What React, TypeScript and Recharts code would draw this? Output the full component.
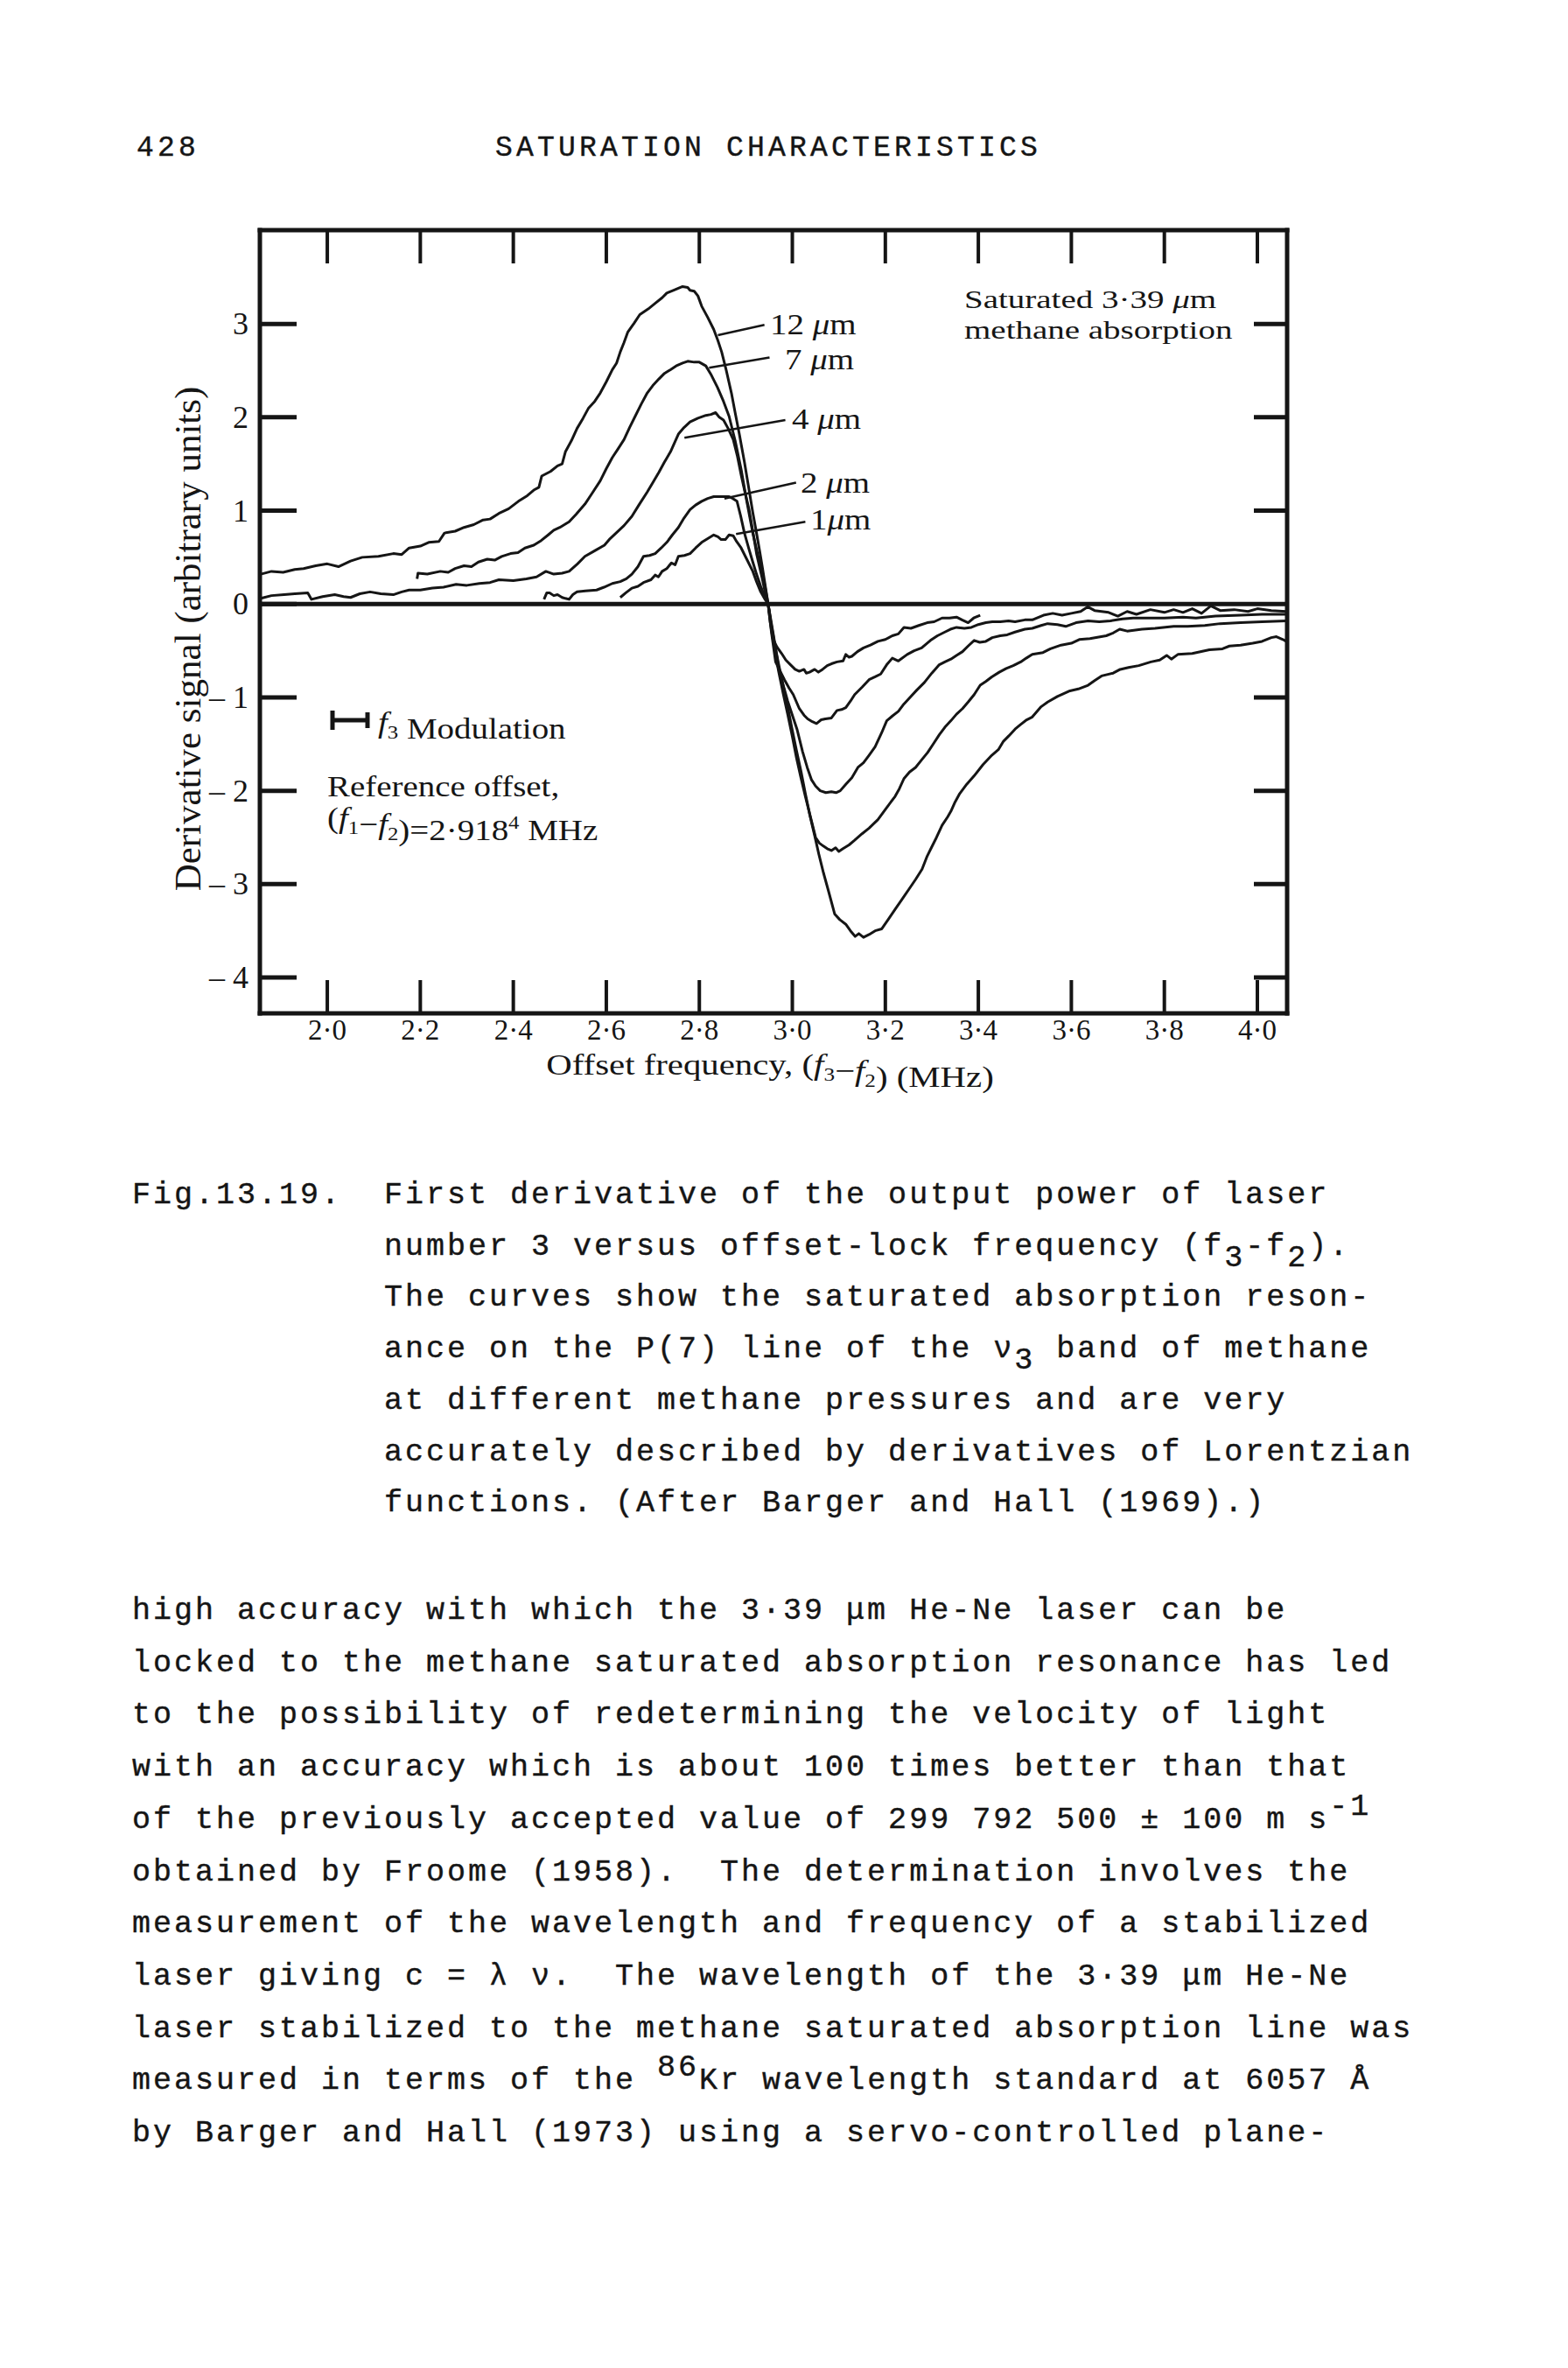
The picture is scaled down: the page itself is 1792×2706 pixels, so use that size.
import React from 'react';
import { LineChart, Line, XAxis, YAxis, ReferenceLine } from 'recharts';

// [offset frequency (MHz), derivative signal]
const curve12um: [number, number][] = [
  [1.857, 0.32], [1.88, 0.35], [1.905, 0.34], [1.93, 0.37], [1.949, 0.38], [1.975, 0.41], [2.0, 0.43], [2.024, 0.4],
  [2.05, 0.46], [2.075, 0.5], [2.11, 0.51], [2.142, 0.54], [2.16, 0.53], [2.176, 0.6], [2.2, 0.62], [2.218, 0.66],
  [2.24, 0.67], [2.252, 0.76], [2.275, 0.78], [2.294, 0.82], [2.315, 0.85], [2.335, 0.9], [2.35, 0.91], [2.369, 0.97],
  [2.39, 1.02], [2.411, 1.1], [2.43, 1.16], [2.444, 1.22], [2.455, 1.25], [2.461, 1.37], [2.48, 1.42], [2.495, 1.48],
  [2.505, 1.5], [2.512, 1.63], [2.525, 1.75], [2.537, 1.88], [2.55, 1.99], [2.562, 2.1], [2.575, 2.17], [2.587, 2.26],
  [2.6, 2.38], [2.613, 2.51], [2.622, 2.58], [2.63, 2.7], [2.638, 2.8], [2.646, 2.91], [2.66, 3.01], [2.672, 3.1],
  [2.69, 3.16], [2.705, 3.22], [2.72, 3.28], [2.73, 3.33], [2.745, 3.36], [2.764, 3.4], [2.775, 3.39], [2.78, 3.36],
  [2.789, 3.35], [2.797, 3.3], [2.805, 3.19], [2.818, 3.07], [2.831, 2.94], [2.84, 2.82], [2.848, 2.7], [2.858, 2.5],
  [2.869, 2.26], [2.877, 2.05], [2.886, 1.82], [2.897, 1.52], [2.907, 1.22], [2.915, 0.98], [2.923, 0.76], [2.93, 0.56],
  [2.936, 0.38], [2.942, 0.19], [2.948, 0.0], [2.954, -0.2], [2.961, -0.4], [2.97, -0.63], [2.98, -0.87], [2.99, -1.1],
  [2.999, -1.33], [3.009, -1.57], [3.019, -1.8], [3.028, -2.03], [3.038, -2.27], [3.048, -2.48], [3.057, -2.68],
  [3.067, -2.88], [3.077, -3.06], [3.091, -3.32], [3.102, -3.38], [3.115, -3.43], [3.125, -3.5], [3.135, -3.56],
  [3.143, -3.53], [3.153, -3.57], [3.165, -3.54], [3.178, -3.5], [3.192, -3.48], [3.206, -3.38], [3.221, -3.27],
  [3.235, -3.17], [3.25, -3.06], [3.265, -2.95], [3.279, -2.84], [3.29, -2.7], [3.298, -2.62], [3.31, -2.5],
  [3.322, -2.37], [3.334, -2.28], [3.341, -2.22], [3.35, -2.12], [3.36, -2.03], [3.375, -1.93], [3.391, -1.84],
  [3.41, -1.72], [3.429, -1.62], [3.443, -1.56], [3.454, -1.47], [3.466, -1.41], [3.479, -1.34], [3.491, -1.29],
  [3.504, -1.24], [3.516, -1.21], [3.535, -1.1], [3.549, -1.05], [3.57, -0.99], [3.597, -0.93], [3.615, -0.91],
  [3.636, -0.87], [3.65, -0.82], [3.665, -0.77], [3.69, -0.74], [3.705, -0.7], [3.723, -0.68], [3.745, -0.66],
  [3.771, -0.62], [3.79, -0.6], [3.805, -0.55], [3.815, -0.59], [3.829, -0.54], [3.86, -0.53], [3.897, -0.49],
  [3.925, -0.48], [3.94, -0.45], [3.964, -0.44], [3.99, -0.42], [4.01, -0.4], [4.03, -0.36], [4.041, -0.35],
  [4.055, -0.38], [4.062, -0.4],
];

const curve7um: [number, number][] = [
  [2.193, 0.27], [2.195, 0.33], [2.215, 0.32], [2.243, 0.35], [2.26, 0.34], [2.275, 0.38], [2.294, 0.41], [2.31, 0.4],
  [2.325, 0.45], [2.344, 0.48], [2.36, 0.47], [2.375, 0.51], [2.394, 0.54], [2.41, 0.55], [2.425, 0.6], [2.444, 0.63],
  [2.46, 0.68], [2.475, 0.74], [2.487, 0.79], [2.5, 0.82], [2.52, 0.88], [2.535, 0.96], [2.554, 1.07], [2.57, 1.19],
  [2.587, 1.32], [2.6, 1.45], [2.613, 1.57], [2.625, 1.66], [2.638, 1.76], [2.65, 1.89], [2.662, 2.01], [2.675, 2.14],
  [2.688, 2.26], [2.7, 2.34], [2.713, 2.41], [2.725, 2.47], [2.738, 2.51], [2.75, 2.55], [2.764, 2.58], [2.775, 2.6],
  [2.789, 2.59], [2.8, 2.59], [2.814, 2.55], [2.826, 2.45], [2.839, 2.32], [2.852, 2.17], [2.864, 2.01], [2.877, 1.75],
  [2.89, 1.44], [2.902, 1.1], [2.915, 0.76], [2.928, 0.48], [2.94, 0.22], [2.948, 0.0], [2.955, -0.25], [2.962, -0.48],
  [2.97, -0.71], [2.98, -0.95], [2.99, -1.18], [3.0, -1.42], [3.009, -1.65], [3.018, -1.85], [3.028, -2.06],
  [3.04, -2.3], [3.05, -2.5], [3.058, -2.56], [3.066, -2.59], [3.075, -2.62], [3.084, -2.64], [3.093, -2.61],
  [3.1, -2.65], [3.109, -2.62], [3.122, -2.58], [3.134, -2.53], [3.15, -2.46], [3.165, -2.4], [3.184, -2.31],
  [3.203, -2.18], [3.221, -2.06], [3.23, -1.98], [3.24, -1.87], [3.252, -1.8], [3.265, -1.75], [3.278, -1.67],
  [3.291, -1.59], [3.303, -1.5], [3.316, -1.4], [3.328, -1.32], [3.341, -1.25], [3.353, -1.18], [3.366, -1.12],
  [3.378, -1.05], [3.391, -0.97], [3.404, -0.87], [3.416, -0.83], [3.429, -0.78], [3.445, -0.73], [3.46, -0.69],
  [3.475, -0.66], [3.491, -0.62], [3.503, -0.58], [3.516, -0.54], [3.539, -0.52], [3.555, -0.48], [3.578, -0.44],
  [3.6, -0.42], [3.617, -0.38], [3.64, -0.37], [3.675, -0.34], [3.69, -0.31], [3.704, -0.27], [3.72, -0.29],
  [3.752, -0.27], [3.78, -0.26], [3.82, -0.24], [3.85, -0.24], [3.887, -0.23], [3.92, -0.21], [3.964, -0.2],
  [4.01, -0.19], [4.062, -0.18],
];

const curve4um: [number, number][] = [
  [1.857, 0.06], [1.88, 0.09], [1.907, 0.1], [1.93, 0.11], [1.958, 0.12], [1.966, 0.05], [1.99, 0.08], [2.016, 0.1],
  [2.035, 0.08], [2.05, 0.07], [2.07, 0.11], [2.092, 0.13], [2.115, 0.11], [2.142, 0.1], [2.16, 0.13], [2.176, 0.15],
  [2.2, 0.15], [2.226, 0.17], [2.25, 0.18], [2.277, 0.21], [2.3, 0.2], [2.327, 0.22], [2.35, 0.23], [2.369, 0.26],
  [2.4, 0.25], [2.428, 0.27], [2.45, 0.29], [2.47, 0.35], [2.487, 0.32], [2.505, 0.33], [2.52, 0.35], [2.538, 0.43],
  [2.554, 0.51], [2.575, 0.57], [2.596, 0.63], [2.608, 0.7], [2.621, 0.76], [2.638, 0.84], [2.655, 0.94], [2.67, 1.06],
  [2.688, 1.2], [2.7, 1.3], [2.713, 1.41], [2.725, 1.52], [2.738, 1.63], [2.747, 1.73], [2.755, 1.82], [2.767, 1.89],
  [2.78, 1.95], [2.797, 1.99], [2.814, 2.02], [2.825, 2.03], [2.835, 2.05], [2.843, 2.0], [2.852, 1.97], [2.862, 1.88],
  [2.873, 1.76], [2.882, 1.58], [2.89, 1.38], [2.898, 1.2], [2.907, 1.01], [2.915, 0.78], [2.923, 0.54], [2.934, 0.3],
  [2.944, 0.07], [2.948, 0.0], [2.96, -0.35], [2.971, -0.7], [2.99, -1.04], [3.01, -1.34], [3.022, -1.58],
  [3.032, -1.75], [3.041, -1.88], [3.05, -1.95], [3.06, -2.0], [3.072, -2.02], [3.084, -2.01], [3.094, -2.02],
  [3.103, -2.0], [3.115, -1.93], [3.128, -1.86], [3.141, -1.75], [3.153, -1.7], [3.165, -1.62], [3.178, -1.53],
  [3.192, -1.38], [3.203, -1.25], [3.215, -1.2], [3.228, -1.15], [3.24, -1.07], [3.253, -1.0], [3.268, -0.92],
  [3.284, -0.84], [3.3, -0.74], [3.316, -0.65], [3.328, -0.62], [3.341, -0.59], [3.353, -0.55], [3.366, -0.51],
  [3.378, -0.45], [3.391, -0.39], [3.403, -0.41], [3.416, -0.4], [3.43, -0.36], [3.447, -0.34], [3.462, -0.33],
  [3.479, -0.3], [3.5, -0.27], [3.516, -0.26], [3.535, -0.23], [3.549, -0.21], [3.57, -0.22], [3.588, -0.24],
  [3.61, -0.2], [3.636, -0.18], [3.66, -0.19], [3.684, -0.18], [3.71, -0.16], [3.733, -0.15], [3.77, -0.15],
  [3.8, -0.15], [3.84, -0.14], [3.868, -0.15], [3.91, -0.13], [3.964, -0.12], [4.01, -0.11], [4.062, -0.11],
];

const curve2um: [number, number][] = [
  [2.466, 0.05], [2.472, 0.12], [2.478, 0.12], [2.487, 0.09], [2.495, 0.1], [2.505, 0.07], [2.512, 0.06], [2.52, 0.05],
  [2.528, 0.1], [2.537, 0.13], [2.555, 0.14], [2.579, 0.15], [2.595, 0.18], [2.613, 0.22], [2.63, 0.24], [2.643, 0.27],
  [2.655, 0.32], [2.668, 0.4], [2.68, 0.51], [2.693, 0.52], [2.705, 0.54], [2.718, 0.6], [2.73, 0.66], [2.742, 0.74],
  [2.755, 0.82], [2.767, 0.92], [2.78, 1.01], [2.792, 1.06], [2.805, 1.1], [2.818, 1.13], [2.831, 1.15], [2.848, 1.15],
  [2.864, 1.15], [2.872, 1.13], [2.881, 1.1], [2.889, 0.94], [2.897, 0.76], [2.906, 0.6], [2.915, 0.45], [2.923, 0.32],
  [2.932, 0.19], [2.94, 0.09], [2.948, 0.0], [2.955, -0.3], [2.964, -0.62], [2.974, -0.72], [2.983, -0.81],
  [2.993, -0.9], [3.002, -0.97], [3.015, -1.12], [3.025, -1.19], [3.033, -1.23], [3.043, -1.26], [3.052, -1.28],
  [3.062, -1.24], [3.071, -1.23], [3.084, -1.22], [3.096, -1.14], [3.106, -1.13], [3.115, -1.11], [3.125, -1.04],
  [3.134, -0.97], [3.15, -0.89], [3.165, -0.81], [3.178, -0.78], [3.19, -0.75], [3.203, -0.65], [3.215, -0.58],
  [3.228, -0.61], [3.247, -0.54], [3.262, -0.5], [3.278, -0.47], [3.297, -0.39], [3.312, -0.34], [3.328, -0.3],
  [3.34, -0.27], [3.353, -0.25], [3.37, -0.26], [3.385, -0.25], [3.4, -0.22], [3.416, -0.2], [3.43, -0.19],
  [3.447, -0.19], [3.465, -0.18], [3.479, -0.19], [3.5, -0.17], [3.516, -0.17], [3.54, -0.12], [3.56, -0.1],
  [3.58, -0.12], [3.6, -0.1], [3.62, -0.08], [3.635, -0.03], [3.65, -0.07], [3.68, -0.09], [3.7, -0.13], [3.72, -0.08],
  [3.74, -0.11], [3.77, -0.06], [3.8, -0.09], [3.82, -0.06], [3.84, -0.09], [3.86, -0.05], [3.88, -0.1], [3.9, -0.02],
  [3.92, -0.07], [3.95, -0.06], [3.98, -0.08], [4.0, -0.05], [4.03, -0.07], [4.062, -0.08],
];

const curve1um: [number, number][] = [
  [2.63, 0.07], [2.642, 0.12], [2.655, 0.17], [2.668, 0.19], [2.68, 0.23], [2.696, 0.26], [2.705, 0.31], [2.712, 0.29],
  [2.72, 0.35], [2.73, 0.38], [2.74, 0.44], [2.748, 0.42], [2.755, 0.51], [2.768, 0.52], [2.78, 0.54], [2.792, 0.6],
  [2.805, 0.66], [2.818, 0.7], [2.831, 0.74], [2.84, 0.72], [2.847, 0.69], [2.856, 0.69], [2.864, 0.74], [2.873, 0.73],
  [2.88, 0.67], [2.89, 0.6], [2.902, 0.48], [2.915, 0.35], [2.923, 0.24], [2.932, 0.13], [2.94, 0.06], [2.948, 0.0],
  [2.952, -0.18], [2.958, -0.37], [2.967, -0.46], [2.977, -0.53], [2.986, -0.6], [2.996, -0.65], [3.006, -0.7],
  [3.015, -0.72], [3.025, -0.7], [3.03, -0.74], [3.037, -0.73], [3.048, -0.7], [3.056, -0.73], [3.065, -0.7],
  [3.075, -0.66], [3.084, -0.64], [3.096, -0.62], [3.109, -0.61], [3.115, -0.54], [3.122, -0.57], [3.128, -0.56],
  [3.14, -0.51], [3.153, -0.47], [3.168, -0.44], [3.184, -0.4], [3.2, -0.38], [3.215, -0.34], [3.228, -0.32],
  [3.24, -0.25], [3.255, -0.26], [3.272, -0.23], [3.29, -0.2], [3.305, -0.19], [3.322, -0.15], [3.338, -0.15],
  [3.353, -0.14], [3.365, -0.17], [3.378, -0.2], [3.39, -0.15], [3.404, -0.12],
];

const xTicks = [2.0, 2.2, 2.4, 2.6, 2.8, 3.0, 3.2, 3.4, 3.6, 3.8, 4.0];
const yTicks = [-4, -3, -2, -1, 0, 1, 2, 3];
const yTicksRight = [-4, -3, -2, -1, 1, 2, 3];

// leader lines from each curve to its pressure label
const leaders = [
  { id: '12', from: [2.84, 2.88], to: [2.94, 2.99] },
  { id: '7', from: [2.821, 2.53], to: [2.951, 2.64] },
  { id: '4', from: [2.768, 1.78], to: [2.985, 1.97] },
  { id: '2', from: [2.854, 1.13], to: [3.008, 1.3] },
  { id: '1', from: [2.879, 0.75], to: [3.028, 0.88] },
];

const captionLines = [
  'Fig.13.19.  First derivative of the output power of laser',
  '            number 3 versus offset-lock frequency (f~3~-f~2~).',
  '            The curves show the saturated absorption reson-',
  '            ance on the P(7) line of the \u03bd~3~ band of methane',
  '            at different methane pressures and are very',
  '            accurately described by derivatives of Lorentzian',
  '            functions. (After Barger and Hall (1969).)',
];

const bodyLines = [
  'high accuracy with which the 3\u00b739 \u03bcm He-Ne laser can be',
  'locked to the methane saturated absorption resonance has led',
  'to the possibility of redetermining the velocity of light',
  'with an accuracy which is about 100 times better than that',
  'of the previously accepted value of 299 792 500 \u00b1 100 m s^-1^',
  'obtained by Froome (1958).  The determination involves the',
  'measurement of the wavelength and frequency of a stabilized',
  'laser giving c = \u03bb \u03bd.  The wavelength of the 3\u00b739 \u03bcm He-Ne',
  'laser stabilized to the methane saturated absorption line was',
  'measured in terms of the ^86^Kr wavelength standard at 6057 \u00c5',
  'by Barger and Hall (1973) using a servo-controlled plane-',
];

const SERIF = '"Liberation Serif", "Times New Roman", serif';
const MONO = '"Liberation Mono", "Courier New", monospace';
const INK = '#151515';

const CHART_W = 1792;
const CHART_H = 1300;
const PLOT = { left: 297, right: 1471, top: 263, bottom: 1158 };
const TICK_LEN = 38;

const toPoints = (c: [number, number][]) => c.map(([x, y]) => ({ x, y }));

const series = [
  { key: '12um', data: toPoints(curve12um) },
  { key: '7um', data: toPoints(curve7um) },
  { key: '4um', data: toPoints(curve4um) },
  { key: '2um', data: toPoints(curve2um) },
  { key: '1um', data: toPoints(curve1um) },
];

const fmtX = (v: number) => v.toFixed(1).replace('.', '\u00b7');
const fmtY = (v: number) => (v < 0 ? `\u2013 ${-v}` : `${v}`);

const BottomTick = (p: any) => (
  <g>
    <line x1={p.x} x2={p.x} y1={PLOT.bottom} y2={PLOT.bottom - TICK_LEN} stroke={INK} strokeWidth={4} />
    <text x={p.x} y={PLOT.bottom + 30} textAnchor="middle" fontFamily={SERIF} fontSize={33} fill={INK}>
      {fmtX(p.payload.value)}
    </text>
  </g>
);

const TopTick = (p: any) => (
  <line x1={p.x} x2={p.x} y1={PLOT.top} y2={PLOT.top + TICK_LEN} stroke={INK} strokeWidth={4} />
);

const LeftTick = (p: any) => (
  <g>
    <line x1={PLOT.left} x2={PLOT.left + TICK_LEN + 4} y1={p.y} y2={p.y} stroke={INK} strokeWidth={5} />
    <text x={PLOT.left - 13} y={p.y + 12} textAnchor="end" fontFamily={SERIF} fontSize={36} fill={INK}>
      {fmtY(p.payload.value)}
    </text>
  </g>
);

const RightTick = (p: any) => (
  <line x1={PLOT.right} x2={PLOT.right - TICK_LEN} y1={p.y} y2={p.y} stroke={INK} strokeWidth={5} />
);

// ~x~ subscript, ^x^ superscript
const marked = (s: string, subDy: number, supDy: number) => {
  const parts = s.split(/(~[^~]*~|\^[^^]*\^)/).filter((t) => t !== '');
  let cur = 0;
  return parts.map((t, i) => {
    let target = 0;
    let txt = t;
    if (t.startsWith('~')) {
      target = subDy;
      txt = t.slice(1, -1);
    } else if (t.startsWith('^')) {
      target = supDy;
      txt = t.slice(1, -1);
    }
    const dy = target - cur;
    cur = target;
    return (
      <tspan key={i} dy={dy !== 0 ? dy : undefined}>
        {txt}
      </tspan>
    );
  });
};

const Label = ({ x, y, children, size = 33, sx = 1.18, anchor = 'start' }: any) => (
  <text
    transform={`translate(${x},${y}) scale(${sx},1)`}
    fontFamily={SERIF}
    fontSize={size}
    textAnchor={anchor}
    fill={INK}
  >
    {children}
  </text>
);

const Mu = () => <tspan fontStyle="italic">{'\u03bc'}</tspan>;
const F = ({ sub }: { sub: string }) => (
  <>
    <tspan fontStyle="italic">f</tspan>
    <tspan fontSize={21} dy={7}>
      {sub}
    </tspan>
    <tspan dy={-7}>{''}</tspan>
  </>
);

const axisLine = { stroke: INK, strokeWidth: 5, strokeLinecap: 'square' as const };

export default function App() {
  return (
    <div style={{ position: 'relative', width: 1792, height: 2706, margin: -8, background: '#fff', overflow: 'hidden' }}>
      <div style={{ position: 'absolute', left: 0, top: 0 }}>
        <LineChart
          width={CHART_W}
          height={CHART_H}
          margin={{
            top: PLOT.top - 2,
            right: CHART_W - PLOT.right - 2,
            bottom: CHART_H - PLOT.bottom - 80,
            left: PLOT.left - 100,
          }}
        >
          <XAxis
            xAxisId="b"
            type="number"
            dataKey="x"
            domain={[1.855, 4.064]}
            allowDataOverflow
            ticks={xTicks}
            interval={0}
            height={80}
            tickSize={0}
            tickMargin={0}
            tickLine={false}
            axisLine={axisLine}
            tick={(p: any) => <BottomTick {...p} />}
          />
          <XAxis
            xAxisId="t"
            orientation="top"
            type="number"
            dataKey="x"
            domain={[1.855, 4.064]}
            allowDataOverflow
            ticks={xTicks}
            interval={0}
            height={2}
            tickSize={0}
            tickMargin={0}
            tickLine={false}
            axisLine={axisLine}
            tick={(p: any) => <TopTick {...p} />}
          />
          <YAxis
            yAxisId="l"
            type="number"
            domain={[-4.384, 4.004]}
            allowDataOverflow
            ticks={yTicks}
            interval={0}
            width={100}
            tickSize={0}
            tickMargin={0}
            tickLine={false}
            axisLine={axisLine}
            tick={(p: any) => <LeftTick {...p} />}
          />
          <YAxis
            yAxisId="r"
            orientation="right"
            type="number"
            domain={[-4.384, 4.004]}
            allowDataOverflow
            ticks={yTicksRight}
            interval={0}
            width={2}
            tickSize={0}
            tickMargin={0}
            tickLine={false}
            axisLine={axisLine}
            tick={(p: any) => <RightTick {...p} />}
          />
          <ReferenceLine xAxisId="b" yAxisId="l" y={0} stroke={INK} strokeWidth={5} />
          {series.map((s) => (
            <Line
              key={s.key}
              xAxisId="b"
              yAxisId="l"
              data={s.data}
              dataKey="y"
              type="linear"
              stroke={INK}
              strokeWidth={3}
              strokeLinejoin="round"
              dot={false}
              activeDot={false}
              isAnimationActive={false}
            />
          ))}
          {leaders.map((l) => (
            <ReferenceLine
              key={l.id}
              xAxisId="b"
              yAxisId="l"
              segment={[
                { x: l.from[0], y: l.from[1] },
                { x: l.to[0], y: l.to[1] },
              ]}
              stroke={INK}
              strokeWidth={2.5}
              ifOverflow="visible"
            />
          ))}
        </LineChart>
      </div>

      <svg
        width={1792}
        height={2706}
        style={{ position: 'absolute', left: 0, top: 0, pointerEvents: 'none' }}
      >
        {/* running head */}
        <g fontFamily={MONO} fontSize={33} fill={INK} stroke={INK} strokeWidth={0.4} letterSpacing={4.2}>
          <text x={156} y={178}>428</text>
          <text x={566} y={178}>SATURATION CHARACTERISTICS</text>
        </g>

        {/* chart annotations */}
        <Label x={1102} y={352} size={30} sx={1.3}>
          Saturated 3{'\u00b7'}39 <Mu />m
        </Label>
        <Label x={1102} y={387} size={30} sx={1.3}>
          methane absorption
        </Label>
        <Label x={880} y={382}>
          12 <Mu />m
        </Label>
        <Label x={897} y={422}>
          7 <Mu />m
        </Label>
        <Label x={905} y={490}>
          4 <Mu />m
        </Label>
        <Label x={915} y={563}>
          2 <Mu />m
        </Label>
        <Label x={926} y={605}>
          1<Mu />m
        </Label>

        <g stroke={INK} strokeWidth={5}>
          <line x1={380} x2={380} y1={812} y2={834} />
          <line x1={380} x2={420} y1={823} y2={823} />
          <line x1={420} x2={420} y1={814} y2={832} />
        </g>
        <Label x={432} y={837}>
          <F sub="3" /> Modulation
        </Label>
        <Label x={374} y={910}>Reference offset,</Label>
        <Label x={374} y={946}>
          (<F sub="1" />
          {'\u2212'}
          <F sub="2" />
          )=2{'\u00b7'}918
          <tspan fontSize={21} dy={-13}>4</tspan>
          <tspan dy={13}> MHz</tspan>
        </Label>

        <Label x={880} y={1228} size={34} sx={1.2} anchor="middle">
          Offset frequency, (<F sub="3" />
          {'\u2212'}
          <F sub="2" />) (MHz)
        </Label>
        <text
          transform="translate(229,730) rotate(-90)"
          fontFamily={SERIF}
          fontSize={43}
          textAnchor="middle"
          fill={INK}
        >
          Derivative signal (arbitrary units)
        </text>

        {/* caption */}
        <g
          fontFamily={MONO}
          fontSize={35}
          fill={INK}
          stroke={INK}
          strokeWidth={0.4}
          letterSpacing={3}
          style={{ whiteSpace: 'pre' }}
        >
          {captionLines.map((line, i) => (
            <text key={i} x={151} y={1375 + i * 58.7} xmlSpace="preserve">
              {marked(line, 13, -14)}
            </text>
          ))}
        </g>

        {/* running text */}
        <g
          fontFamily={MONO}
          fontSize={35}
          fill={INK}
          stroke={INK}
          strokeWidth={0.4}
          letterSpacing={3}
          style={{ whiteSpace: 'pre' }}
        >
          {bodyLines.map((line, i) => (
            <text key={i} x={151} y={1850 + i * 59.7} xmlSpace="preserve">
              {marked(line, 13, -15)}
            </text>
          ))}
        </g>
      </svg>
    </div>
  );
}
